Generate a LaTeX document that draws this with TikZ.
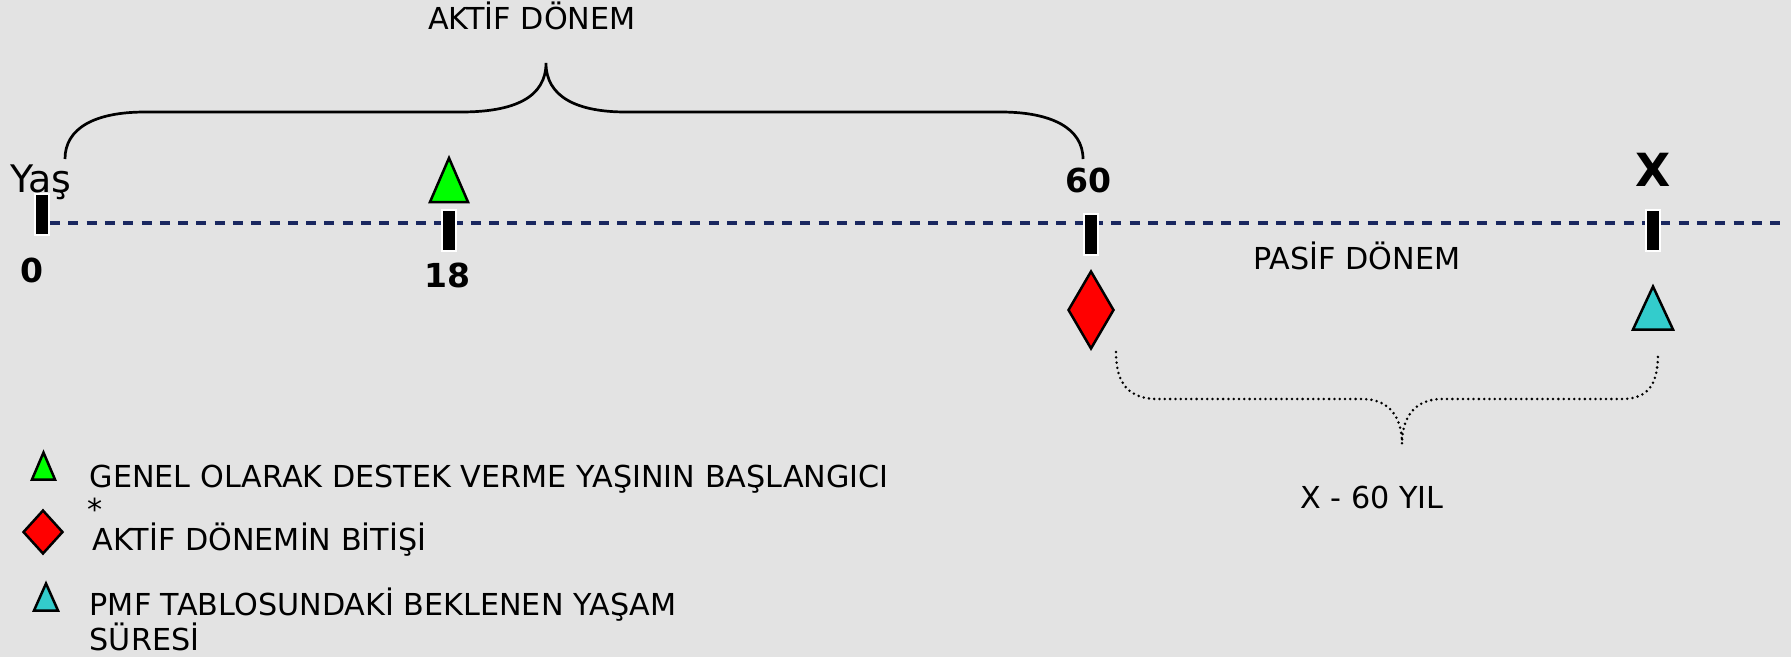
\documentclass[tikz,border=0pt]{standalone}
\usepackage{fontspec}
\setmainfont{DejaVu Sans}
\usetikzlibrary{shapes.geometric,positioning}
\definecolor{zemin}{HTML}{E3E3E3}
\definecolor{lacivert}{HTML}{1A2860}
\definecolor{yesil}{HTML}{00FF00}
\definecolor{kirmizi}{HTML}{FF0000}
\definecolor{turkuaz}{HTML}{33CCCC}

\begin{document}
\begin{tikzpicture}[x=0.1mm,y=-0.1mm,
    cubuk/.style={draw=white,fill=black,line width=0.2mm,minimum width=1.4mm,minimum height=4.1mm,inner sep=0pt},
    yazi/.style={font=\fontsize{8.6}{10}\selectfont,inner sep=0pt},
    sayi/.style={font=\fontsize{9.4}{11}\selectfont\bfseries,inner sep=0pt},
    sekil/.style={draw=black,line width=0.25mm,line join=miter},
    karo/.style={diamond,sekil,fill=kirmizi,inner sep=0pt}]
        %zemin;
            \fill[zemin] (0,0) rectangle (1791,657);
            \useasboundingbox (0,0) rectangle (1791,657);
        %eksen;
            \coordinate (bas) at (50,223);
            \coordinate (son) at (1782,223);
            \draw[lacivert,line width=0.35mm,dash pattern=on 1mm off 0.83mm] (bas) -- (son);
            \node[cubuk] (y0) at (42,214) {};
            \node[cubuk] (y18) at (449,230) {};
            \node[cubuk] (y60) at (1091,234) {};
            \node[cubuk] (yX) at (1653,230) {};
        %yas etiketleri;
            \node[yazi,font=\fontsize{10.8}{13}\selectfont,anchor=base west] (yas) at (10,192) {Yaş};
            \node[sayi] (s0) at (32,270) {0};
            \node[sayi] (s18) at (447,275) {18};
            \node[sayi] (s60) at (1088,180) {60};
            \node[sayi,font=\fontsize{13}{15}\selectfont\bfseries] (sX) at (1653,170) {X};
        %isaretler;
            \filldraw[sekil,fill=yesil,shift={(449,180)}] (-19,22) -- (0,-22) -- (19,22) -- cycle;
            \node[karo,minimum width=4.6mm,minimum height=7.8mm] (k60) at (1091,310) {};
            \filldraw[sekil,fill=turkuaz,shift={(1653,308)}] (-20,21.5) -- (0,-21.5) -- (20,21.5) -- cycle;
        %aktif donem;
            \coordinate (ua) at (65,159);
            \coordinate (uc) at (546,63);
            \coordinate (ub) at (1083,159);
            \draw[line width=0.27mm] (ua) .. controls (65,128) and (95,112) .. (145,112) -- (461,112)
                .. controls (515,112) and (546,97) .. (uc)
                .. controls (546,97) and (577,112) .. (626,112) -- (1001,112)
                .. controls (1051,112) and (1083,128) .. (ub);
            \node[yazi,anchor=base] (aktif) at (532,29) {AKTİF DÖNEM};
        %pasif donem;
            \node[yazi,anchor=base] (pasif) at (1357,269) {PASİF DÖNEM};
            \coordinate (la) at (1116,352);
            \coordinate (lc) at (1402,444);
            \coordinate (lb) at (1658,352);
            \draw[line width=0.28mm,line cap=round,dash pattern=on 0pt off 0.53mm] (la) .. controls (1116,383) and (1128,399) .. (1158,399) -- (1362,399)
                .. controls (1390,399) and (1402,418) .. (lc)
                .. controls (1402,418) and (1414,399) .. (1442,399) -- (1621,399)
                .. controls (1650,399) and (1658,383) .. (lb);
            \node[yazi,anchor=base] (fark) at (1372,508) {X - 60 YIL};
        %aciklamalar;
            \filldraw[sekil,fill=yesil,shift={(43.5,466)}] (-11.5,13.5) -- (0,-13.5) -- (11.5,13.5) -- cycle;
            \node[yazi,anchor=base west] (a1) at (89,487) {GENEL OLARAK DESTEK VERME YAŞININ BAŞLANGICI};
            \node[yazi,anchor=base west] (yildiz) at (87,520) {*};
            \node[karo,minimum width=4mm,minimum height=4.4mm] (k2) at (43,532) {};
            \node[yazi,anchor=base west] (a2) at (92,550) {AKTİF DÖNEMİN BİTİŞİ};
            \filldraw[sekil,fill=turkuaz,shift={(46,597)}] (-12,13.5) -- (0,-13.5) -- (12,13.5) -- cycle;
            \node[yazi,anchor=base west] (a3) at (89,615) {PMF TABLOSUNDAKİ BEKLENEN YAŞAM};
            \node[yazi,anchor=base west] (a4) at ([yshift=-3.5mm]a3.base west) {SÜRESİ};
\end{tikzpicture}
\end{document}
